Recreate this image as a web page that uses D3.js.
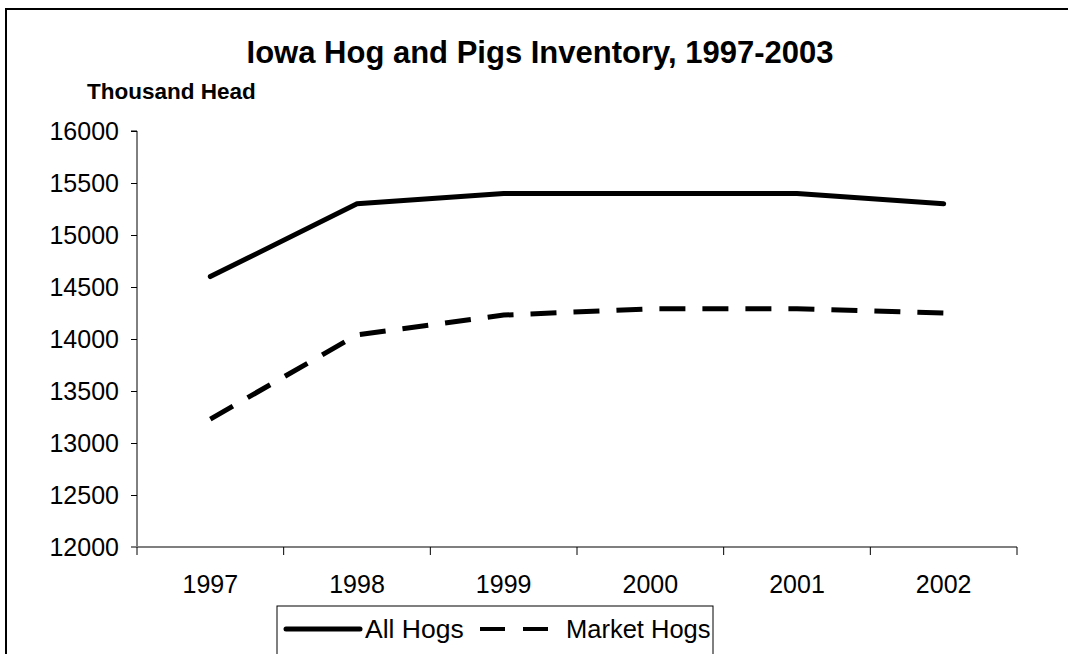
<!DOCTYPE html>
<html>
<head>
<meta charset="utf-8">
<script src="https://cdn.jsdelivr.net/npm/d3@7"></script>
<style>
  body { margin: 0; background: #fff; }
  svg { display: block; font-family: "Liberation Sans", Arial, sans-serif; }
</style>
</head>
<body>
<svg id="chart"></svg>
<script>
const years = ['1997', '1998', '1999', '2000', '2001', '2002'];
const allHogs = [14600, 15300, 15400, 15400, 15400, 15300];
const marketHogs = [13230, 14040, 14230, 14290, 14290, 14250];
const yTicks = [12000, 12500, 13000, 13500, 14000, 14500, 15000, 15500, 16000];

const width = 1068, height = 654;
const plot = { left: 137, right: 1017, top: 131, bottom: 547 };

const svg = d3.select('#chart')
  .attr('width', width)
  .attr('height', height);

svg.append('rect')
  .attr('width', width).attr('height', height).attr('fill', '#fff');

// outer frame, runs off the right and bottom edge
svg.append('rect')
  .attr('x', 6).attr('y', 9)
  .attr('width', 1100).attr('height', 700)
  .attr('fill', 'none').attr('stroke', '#000').attr('stroke-width', 2);

const x = d3.scaleBand().domain(years).range([plot.left, plot.right]);
const y = d3.scaleLinear().domain([12000, 16000]).range([plot.bottom, plot.top]);

svg.append('text')
  .attr('x', 540).attr('y', 63)
  .attr('text-anchor', 'middle')
  .style('font-size', '31px').style('font-weight', 'bold')
  .text('Iowa Hog and Pigs Inventory, 1997-2003');

svg.append('text')
  .attr('x', 87).attr('y', 99)
  .style('font-size', '22.5px').style('font-weight', 'bold')
  .text('Thousand Head');

// y axis
const yAxis = svg.append('g')
  .attr('transform', `translate(${plot.left},0)`)
  .call(d3.axisLeft(y).tickValues(yTicks).tickSize(6).tickPadding(12).tickFormat(d3.format('d')));
yAxis.select('.domain').attr('stroke', '#000').attr('d', `M-6,${plot.top}H0V${plot.bottom}`);
yAxis.selectAll('text').style('font-size', '25px').attr('fill', '#000')
  .style('font-family', '"Liberation Sans", Arial, sans-serif');

// x axis
const xAxis = svg.append('g')
  .attr('transform', `translate(0,${plot.bottom})`)
  .call(d3.axisBottom(x).tickSize(0).tickPadding(28));
xAxis.select('.domain').attr('stroke', '#7f7f7f').attr('stroke-width', 2)
  .attr('d', `M${plot.left - 6},0H${plot.right}`);
xAxis.selectAll('text').style('font-size', '25px').attr('fill', '#000')
  .style('font-family', '"Liberation Sans", Arial, sans-serif');
const bounds = years.map(d => x(d)).concat([plot.right]);
xAxis.selectAll('.bound')
  .data(bounds)
  .enter()
  .append('line')
  .attr('class', 'bound')
  .attr('x1', d => d).attr('x2', d => d)
  .attr('y1', 0).attr('y2', 8)
  .attr('stroke', '#000').attr('stroke-width', 1);

const line = d3.line()
  .x((d, i) => x(years[i]) + x.bandwidth() / 2)
  .y(d => y(d));

svg.append('path')
  .datum(allHogs)
  .attr('d', line)
  .attr('fill', 'none').attr('stroke', '#000')
  .attr('stroke-width', 5).attr('stroke-linecap', 'round').attr('stroke-linejoin', 'round');

svg.append('path')
  .datum(marketHogs)
  .attr('d', line)
  .attr('fill', 'none').attr('stroke', '#000')
  .attr('stroke-width', 5).attr('stroke-dasharray', '26,17');

// legend
const legend = svg.append('g').attr('transform', 'translate(277,606)');
legend.append('rect')
  .attr('width', 436).attr('height', 80)
  .attr('fill', '#fff').attr('stroke', '#000').attr('stroke-width', 1);
legend.append('line')
  .attr('x1', 9).attr('x2', 83).attr('y1', 23).attr('y2', 23)
  .attr('stroke', '#000').attr('stroke-width', 5).attr('stroke-linecap', 'round');
legend.append('text')
  .attr('x', 88).attr('y', 32)
  .style('font-size', '26.5px')
  .text('All Hogs');
legend.append('line')
  .attr('x1', 203).attr('x2', 271).attr('y1', 23).attr('y2', 23)
  .attr('stroke', '#000').attr('stroke-width', 4).attr('stroke-dasharray', '25,18');
legend.append('text')
  .attr('x', 289).attr('y', 32)
  .style('font-size', '25.5px')
  .text('Market Hogs');
</script>
</body>
</html>
